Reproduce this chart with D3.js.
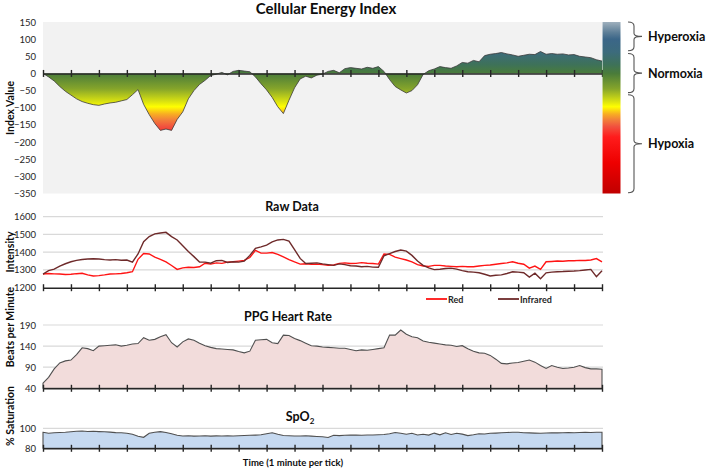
<!DOCTYPE html>
<html><head><meta charset="utf-8">
<script src="https://cdn.jsdelivr.net/npm/d3@7"></script>
<style>
body{margin:0;background:#fff;}
text{font-family:Lato,"Open Sans",sans-serif;}
</style></head>
<body><svg id="c" width="708" height="469"></svg>
<script>
// time axis: minutes, one sample every 0.2 min
const minutes = d3.range(0, 101).map(i => +(i * 0.2).toFixed(1));
const minuteTicks = d3.range(0, 21);

const energyIndex = [0,-10,-22,-38,-52,-63,-74,-82,-87,-91,-93,-89,-86,-84,-80,-76,-62,-47,-90,-120,
 -146,-166,-162,-166,-134,-112,-74,-50,-32,-20,-6,-2,3,-4,6,9,7,5,-10,-30,
 -48,-70,-97,-117,-78,-42,-16,-8,-13,-5,-2,6,9,2,14,17,15,13,18,15,
 20,6,-18,-38,-48,-57,-50,-33,-3,8,13,20,17,15,22,32,30,38,34,52,
 56,58,61,57,54,50,53,56,55,64,56,58,56,57,54,55,50,48,46,40,36];

const rawRed = [1277,1280,1278,1277,1274,1276,1279,1281,1272,1266,1268,1272,1277,1278,1280,1284,1290,1360,1393,1390,
 1372,1360,1345,1325,1303,1312,1315,1314,1318,1338,1333,1340,1337,1344,1346,1350,1354,1370,1410,1395,
 1395,1398,1388,1374,1358,1345,1333,1335,1332,1333,1330,1326,1328,1337,1340,1336,1337,1341,1338,1336,
 1333,1390,1388,1372,1364,1356,1345,1330,1322,1320,1326,1326,1322,1320,1318,1320,1318,1318,1322,1326,
 1328,1332,1336,1340,1346,1338,1332,1310,1322,1303,1346,1348,1350,1349,1352,1352,1354,1353,1356,1364,1346];

const rawInfrared = [1277,1296,1305,1322,1335,1346,1354,1359,1362,1363,1362,1358,1356,1358,1355,1356,1344,1390,1459,1488,
 1503,1508,1512,1488,1469,1436,1404,1375,1345,1344,1338,1352,1354,1342,1346,1344,1350,1382,1422,1430,
 1440,1458,1469,1472,1462,1415,1365,1336,1338,1340,1334,1330,1326,1334,1330,1324,1322,1318,1320,1316,
 1315,1380,1392,1404,1412,1406,1382,1350,1326,1312,1302,1304,1308,1310,1305,1296,1290,1288,1284,1276,
 1266,1270,1272,1280,1290,1288,1284,1260,1282,1250,1284,1288,1290,1291,1293,1294,1296,1300,1303,1262,1296];

const heartRate = [52,66,86,100,105,107,120,136,134,129,140,141,142,143,140,142,145,146,160,154,
 156,162,167,148,138,150,157,154,147,141,137,134,133,132,131,127,124,128,154,155,
 156,148,146,166,165,158,153,147,141,140,138,137,136,135,135,132,129,131,130,132,
 134,136,166,166,178,168,162,160,152,149,147,145,143,142,139,141,134,128,124,123,
 118,109,99,98,100,101,104,107,102,94,87,94,90,87,88,90,94,89,86,86,85];

const spo2 = [96,95,95.5,95.8,96,96.5,97,97.3,96.8,97,96.7,96.5,96.2,95.7,95.5,95,94,92,91,95,
 96,96.7,95.8,94.6,93,92.3,92.5,92.2,92.3,92.5,92.2,92.4,92.3,92.5,92.3,92.6,92.8,93,93.2,93.5,
 94.5,95.6,94,92.8,92.5,92.3,92.3,92.5,92.2,91.8,91.5,90.8,93,92.7,93,93.2,93.3,93,93.3,93.3,
 93.5,93.8,94.5,95.8,95,94,95,93.3,94,93.2,95.2,93.5,95.5,93.8,95,94.2,92.7,93.5,94.5,94.3,
 95,95.2,95.5,95.8,96,96,95.6,95.4,95.2,95,95.3,95.5,95.4,95.6,95.7,95.6,95.8,96,95.8,96,96];

const indexTicks = [150,100,50,0,-50,-100,-150,-200,-250,-300,-350];
const rawTicks = [1200,1300,1400,1500,1600];
const hrTicks = [40,90,140,190];
const spo2Ticks = [80,100];

// colour scale of the energy index (value -> colour)
const gradValues = [150,120,100,62,25,0,-45,-80,-97,-118,-135,-155,-185,-260,-350];
const gradColors = ["#9fb0bd","#5e7f98","#3b6688","#3c6b7c","#3e7258","#4a7c3a","#86a52a","#d6df12","#ffff00","#f8ae22","#f2803a","#f1513f","#ff1c1c","#ee0000","#c00000"];

const zones = [
  {name:"Hyperoxia", top:150, bot:66},
  {name:"Normoxia", top:58, bot:-56},
  {name:"Hypoxia", top:-62, bot:-348}
];

const svg = d3.select("#c");
const x = d3.scaleLinear().domain([0,20]).range([43,602]);
const yI = d3.scaleLinear().domain([-350,150]).range([193.5,22]);
const yR = d3.scaleLinear().domain([1200,1600]).range([287.7,216.7]);
const yH = d3.scaleLinear().domain([40,190]).range([388.3,325]);
const yS = d3.scaleLinear().domain([80,100]).range([448.3,428.3]);

const tickFont = "9.5px";
function yTickLabels(scale, vals){
  const g = svg.append("g").attr("transform","translate(36,0)")
    .call(d3.axisLeft(scale).tickValues(vals).tickFormat(d3.format("d")).tickSize(0).tickPadding(0));
  g.select(".domain").remove();
  g.selectAll("text").attr("fill","#262626").style("font-size",tickFont).style("font-family","Lato, sans-serif");
}
function xTickAxis(y){
  const g = svg.append("g").attr("transform",`translate(0,${y})`)
    .call(d3.axisBottom(x).tickValues(minuteTicks).tickFormat("").tickSize(3.5).tickSizeOuter(0));
  g.select(".domain").attr("stroke","#262626").attr("stroke-width",1.6);
  g.selectAll(".tick line").attr("y1",-3.5).attr("y2",3.5).attr("stroke","#262626").attr("stroke-width",1.4);
}
function gridlines(scale, vals){
  svg.append("g").selectAll("line").data(vals).join("line")
    .attr("x1",43).attr("x2",603).attr("y1",d=>scale(d)).attr("y2",d=>scale(d))
    .attr("stroke","#d9d9d9").attr("stroke-width",1.2);
}
function boldText(t, xx, yy, size, anchor="middle", rot=false){
  const e = svg.append("text").text(t).attr("font-weight","bold").style("font-size",size)
    .attr("fill","#0d0d0d").attr("text-anchor",anchor);
  if(rot) e.attr("transform",`translate(${xx},${yy}) rotate(-90)`); else e.attr("x",xx).attr("y",yy);
  return e;
}

// ---------- Panel 1: Cellular Energy Index ----------
const defs = svg.append("defs");
const grad = defs.append("linearGradient").attr("id","eg").attr("gradientUnits","userSpaceOnUse")
  .attr("x1",0).attr("x2",0).attr("y1",yI(150)).attr("y2",yI(-350));
gradValues.forEach((v,i)=>{
  grad.append("stop").attr("offset",(yI(v)-yI(150))/(yI(-350)-yI(150))).attr("stop-color",gradColors[i]);
});
svg.append("rect").attr("x",43).attr("y",yI(150)).attr("width",x(20)-43).attr("height",yI(-350)-yI(150)).attr("fill","#f2f2f2");
const eData = minutes.map((t,i)=>({t,v:energyIndex[i]}));
svg.append("path").datum(eData).attr("fill","url(#eg)")
  .attr("d", d3.area().x(d=>x(d.t)).y0(yI(0)).y1(d=>yI(d.v)));
svg.append("path").datum(eData).attr("fill","none").attr("stroke","#3a3a3a").attr("stroke-width",0.8)
  .attr("d", d3.line().x(d=>x(d.t)).y(d=>yI(d.v)));
xTickAxis(yI(0));
yTickLabels(yI, indexTicks);
svg.append("rect").attr("x",602.5).attr("y",yI(150)).attr("width",18).attr("height",yI(-350)-yI(150)).attr("fill","url(#eg)");
boldText("Cellular Energy Index", 326, 13.5, "15px");
boldText("Index Value", 14, 108, "10.5px", "middle", true);

// braces + zone labels
function brace(x0, yt, yb){
  const w=6, tip=8, ym=(yt+yb)/2, r=3;
  return `M${x0},${yt} Q${x0+w},${yt} ${x0+w},${yt+r+1} L${x0+w},${ym-r} Q${x0+w},${ym} ${x0+w+tip},${ym} `+
    `M${x0+w+tip},${ym} Q${x0+w},${ym} ${x0+w},${ym+r} L${x0+w},${yb-r-1} Q${x0+w},${yb} ${x0},${yb}`;
}
zones.forEach(z=>{
  const yt=yI(z.top), yb=yI(z.bot);
  svg.append("path").attr("d",brace(628,yt,yb)).attr("fill","none").attr("stroke","#555").attr("stroke-width",1.1);
  boldText(z.name, 648, (yt+yb)/2+4.5, "12.5px", "start");
});

// ---------- Panel 2: Raw Data ----------
gridlines(yR, [1300,1400,1500,1600]);
const lineR = d3.line().x((d,i)=>x(minutes[i])).y(d=>yR(d));
svg.append("path").datum(rawRed).attr("fill","none").attr("stroke","#ff1414").attr("stroke-width",1.4).attr("d",lineR);
svg.append("path").datum(rawInfrared).attr("fill","none").attr("stroke","#6e2a2a").attr("stroke-width",1.4).attr("d",lineR);
xTickAxis(yR(1200));
yTickLabels(yR, rawTicks);
boldText("Raw Data", 292, 211, "12.5px");
boldText("Intensity", 14, 252, "10.5px", "middle", true);
// legend
const legend = [{name:"Red", color:"#ff1414", x0:426},{name:"Infrared", color:"#6e2a2a", x0:498}];
legend.forEach(l=>{
  svg.append("line").attr("x1",l.x0).attr("x2",l.x0+21).attr("y1",299).attr("y2",299).attr("stroke",l.color).attr("stroke-width",1.8);
  boldText(l.name, l.x0+22, 302.5, "9px", "start").attr("fill","#262626");
});

// ---------- Panel 3: PPG Heart Rate ----------
gridlines(yH, [90,140,190]);
svg.append("path").datum(heartRate).attr("fill","#f2dcdb").attr("stroke","#505050").attr("stroke-width",1.1)
  .attr("d", d3.area().x((d,i)=>x(minutes[i])).y0(yH(40)).y1(d=>yH(d)));
xTickAxis(yH(40));
yTickLabels(yH, hrTicks);
boldText("PPG Heart Rate", 288, 321, "12.5px");
boldText("Beats per Minute", 14, 327, "10.5px", "middle", true);

// ---------- Panel 4: SpO2 ----------
gridlines(yS, [100]);
svg.append("path").datum(spo2).attr("fill","#c6d9f0").attr("stroke","#505050").attr("stroke-width",1.1)
  .attr("d", d3.area().x((d,i)=>x(minutes[i])).y0(yS(80)).y1(d=>yS(d)));
xTickAxis(yS(80));
yTickLabels(yS, spo2Ticks);
const st = boldText("SpO", 300, 421, "12.5px");
st.append("tspan").text("2").style("font-size","8px").attr("dy",3);
boldText("% Saturation", 14, 416, "10.5px", "middle", true);
boldText("Time (1 minute per tick)", 293, 466, "9.5px");
</script></body></html>
